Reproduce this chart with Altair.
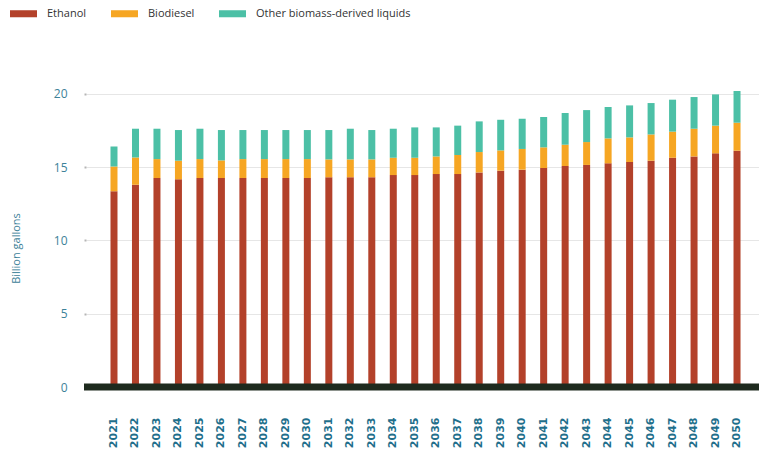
import altair as alt
import pandas as pd

# Liquid biofuel output, billion gallons, by year
years = list(range(2021, 2051))
ethanol = [13.34, 13.79, 14.25, 14.16, 14.25, 14.25, 14.25, 14.25, 14.25, 14.25,
           14.30, 14.30, 14.30, 14.45, 14.45, 14.52, 14.52, 14.63, 14.75, 14.82,
           14.93, 15.07, 15.14, 15.25, 15.34, 15.43, 15.63, 15.72, 15.93, 16.11]
biodiesel = [1.70, 1.86, 1.29, 1.27, 1.29, 1.20, 1.29, 1.29, 1.29, 1.29,
             1.22, 1.22, 1.22, 1.18, 1.18, 1.20, 1.30, 1.39, 1.38, 1.41,
             1.41, 1.45, 1.56, 1.70, 1.68, 1.79, 1.78, 1.89, 1.89, 1.91]
other_liquids = [1.36, 1.96, 2.07, 2.09, 2.07, 2.07, 1.98, 1.98, 1.98, 1.98,
                 2.00, 2.09, 2.00, 1.98, 2.07, 1.98, 2.00, 2.09, 2.09, 2.06,
                 2.07, 2.16, 2.18, 2.14, 2.18, 2.14, 2.18, 2.16, 2.13, 2.16]

fuel_names = ["Ethanol", "Biodiesel", "Other biomass-derived liquids"]
fuel_colors = ["#b3412a", "#f6a623", "#4cc0a6"]

rows = []
for i, yr in enumerate(years):
    for k, (name, series) in enumerate(zip(fuel_names, [ethanol, biodiesel, other_liquids])):
        rows.append({"year": str(yr), "fuel": name, "value": series[i], "rank": k})
df = pd.DataFrame(rows)

W, H = 673, 308
TEXT_BLUE = "#3d8299"

bars = alt.Chart(df).mark_bar().encode(
    x=alt.X(
        "year:N",
        title=None,
        scale=alt.Scale(paddingInner=0.674, paddingOuter=1.0, align=0.57),
        axis=alt.Axis(
            labelAngle=270,
            labelFont="DejaVu Sans",
            labelFontWeight="bold",
            labelFontSize=11,
            labelColor="#1f6f8b",
            labelPadding=30,
            ticks=False,
            domain=False,
            grid=False,
        ),
    ),
    y=alt.Y(
        "value:Q",
        stack="zero",
        title="Billion gallons",
        scale=alt.Scale(domain=[0, 21], nice=False),
        axis=alt.Axis(
            values=[0, 5, 10, 15, 20],
            domain=False,
            tickSize=2,
            tickWidth=2,
            tickColor="#b5b5b5",
            labelPadding=17,
            labelFont="Open Sans",
            labelFontSize=12,
            labelColor=TEXT_BLUE,
            gridColor="#e6e6e6",
            gridWidth=1,
            titleFont="Open Sans",
            titleFontSize=11,
            titleFontWeight="normal",
            titleColor=TEXT_BLUE,
            titleX=-70,
            titleY=169,
            titleAlign="center",
            titleBaseline="middle",
        ),
    ),
    color=alt.Color(
        "fuel:N",
        scale=alt.Scale(domain=fuel_names, range=fuel_colors),
        legend=alt.Legend(
            title=None,
            orient="none",
            direction="horizontal",
            legendX=-76,
            legendY=-79,
            symbolType="M-1,-0.26H1V0.26H-1Z",
            symbolSize=729,
            symbolStrokeWidth=0,
            symbolOpacity=1,
            labelFont="Open Sans",
            labelFontSize=11,
            labelColor="#333333",
            labelOffset=10,
            labelLimit=400,
            columnPadding=24,
        ),
    ),
    order=alt.Order("rank:Q", sort="ascending"),
)

baseline = alt.Chart(pd.DataFrame({"zero": [0]})).mark_rule(
    color="#1e2a1e", strokeWidth=7
).encode(
    y="zero:Q",
    x=alt.value(-2),
    x2=alt.value(W),
)

chart = alt.layer(bars, baseline).properties(
    width=W,
    height=H,
    background="white",
    autosize=alt.AutoSizeParams(type="none"),
    padding={"left": 86, "top": 79, "right": 0, "bottom": 68},
).configure_view(strokeWidth=0, stroke="transparent")

chart.save("out.html", embed_options={"renderer": "svg", "actions": False})
